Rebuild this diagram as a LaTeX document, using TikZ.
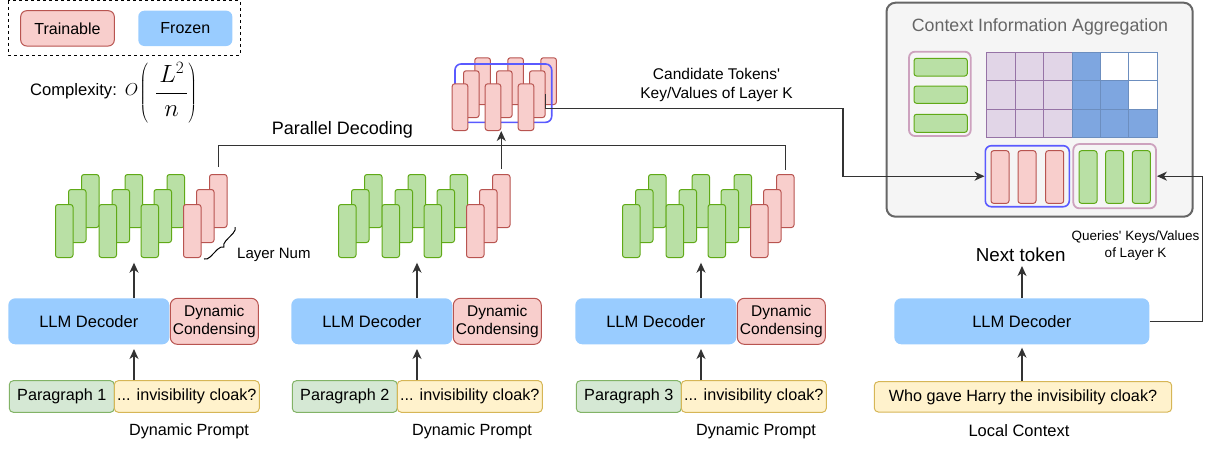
\documentclass[tikz,border=0pt]{standalone}
\usepackage{fontspec}
\setmainfont{Liberation Sans}
\usetikzlibrary{arrows.meta,decorations.pathreplacing}
\definecolor{gfill}{HTML}{B9E0A5}
\definecolor{gline}{HTML}{60A917}
\definecolor{rfill}{HTML}{F8CECC}
\definecolor{rline}{HTML}{B85450}
\definecolor{decblue}{HTML}{99CCFF}
\definecolor{pgfill}{HTML}{D5E8D4}
\definecolor{pgline}{HTML}{82B366}
\definecolor{yfill}{HTML}{FFF2CC}
\definecolor{yline}{HTML}{D6B656}
\definecolor{aggfill}{HTML}{F5F5F5}
\definecolor{aggline}{HTML}{666666}
\definecolor{pinkline}{HTML}{CDA2BE}
\definecolor{kvblue}{HTML}{5A5AFF}
\definecolor{pfill}{HTML}{E1D5E7}
\definecolor{pline}{HTML}{9673A6}
\definecolor{bfill}{HTML}{7EA6E0}
\definecolor{bline}{HTML}{6C8EBF}
\definecolor{conncol}{HTML}{333333}
\newcommand{\fsz}[2]{\fontsize{#1}{#2}\selectfont}
\newcommand{\mkbox}[7]{\node[#1, minimum width={(#5)-(#3)}, minimum height={(#6)-(#4)}] (#2) at ({((#3)+(#5))/2},{((#4)+(#6))/2}) {#7};}
\begin{document}
\begin{tikzpicture}[x=1pt,y=-1pt,
  conn/.style={draw=conncol, line width=1.3pt},
  arr/.style={conn, -{Stealth[length=10pt,width=9pt,inset=3pt]}},
  bar/.style={anchor=north west, minimum width=17.5pt, minimum height=53pt, inner sep=0pt, rounded corners=2.5pt, line width=1pt},
  cbar/.style={bar, fill=rfill, draw=rline, minimum width=15.6pt, minimum height=46.7pt},
  trainbox/.style={draw=rline, fill=rfill, rounded corners=6pt, line width=1pt, inner sep=0pt, font=\fsz{16}{19}},
  frozenbox/.style={fill=decblue, rounded corners=6pt, inner sep=0pt, font=\fsz{16}{19}},
  decbox/.style={fill=decblue, rounded corners=7pt, inner sep=0pt, font=\fsz{16.5}{19}},
  condbox/.style={draw=rline, fill=rfill, rounded corners=7pt, line width=1pt, inner sep=0pt, align=center, font=\fsz{15.5}{18.4}},
  parabox/.style={draw=pgline, fill=pgfill, rounded corners=4pt, line width=1pt, inner sep=0pt, font=\fsz{16.2}{19}},
  ybox/.style={draw=yline, fill=yfill, rounded corners=4pt, line width=1pt, inner sep=0pt, font=\fsz{16.2}{19}},
  aggbox/.style={draw=aggline, fill=aggfill, rounded corners=9pt, line width=2pt, inner sep=0pt},
  pinkframe/.style={draw=pinkline, rounded corners=6pt, line width=1.8pt, inner sep=0pt},
  kvframe/.style={draw=kvblue, rounded corners=6pt, line width=1.6pt, inner sep=0pt},
  gbox/.style={draw=gline, fill=gfill, rounded corners=2.5pt, line width=1pt, inner sep=0pt},
  rbox/.style={draw=rline, fill=rfill, rounded corners=2.5pt, line width=1pt, inner sep=0pt},
  lab/.style={inner sep=0pt}
]
\useasboundingbox (0,0) rectangle (1210,448);

% legend
\draw[black, line width=1pt, dash pattern=on 3pt off 3pt] (8.3,0.8) rectangle (240,55);
\mkbox{trainbox}{legT}{20.7}{10.7}{114.3}{46}{Trainable}
\mkbox{frozenbox}{legF}{138.3}{10.7}{232.3}{46}{Frozen}

% complexity
\node[lab, anchor=base west, font=\fsz{16.6}{20}] (cx) at (30,95.5) {Complexity:\hspace{8pt}$O$\hspace{1pt}\raisebox{-3.5pt}{\fsz{23}{28}$\displaystyle\left(\hspace{7pt}\frac{\hspace{3pt}L^2\hspace{3pt}}{n}\right)$}};

% three dynamic-prompt columns
\foreach \k/\dx in {1/0,2/283,3/567}{
  \mkbox{decbox}{dec\k}{8.3+\dx}{298.3}{169.3+\dx}{344.3}{LLM Decoder}
  \mkbox{condbox}{cond\k}{170.3+\dx}{298.3}{258.3+\dx}{344.3}{Dynamic\\Condensing}
  \mkbox{parabox}{para\k}{9.3+\dx}{380.7}{114.3+\dx}{412.3}{Paragraph \k}
  \mkbox{ybox}{inv\k}{114.3+\dx}{380.7}{259.3+\dx}{412.3}{... invisibility cloak?}
  \node[lab, font=\fsz{16.2}{19}] (dp\k) at ({189+\dx},431) {Dynamic Prompt};
  \foreach \g/\gx in {0/0,1/43.5,2/85.5,3/128}{
    \foreach \l in {2,1,0}{
      \ifnum\g<3 \def\barF{gfill}\def\barD{gline}\else\def\barF{rfill}\def\barD{rline}\fi
      \node[bar, fill=\barF, draw=\barD] (s\k g\g l\l) at ({55+\dx+\gx+13*\l},{204-15*\l}) {};
    }
  }
  \coordinate (up\k) at ({134+\dx},262.7);
  \coordinate (pa\k) at ({134+\dx},349);
  \draw[arr] (dec\k.north -| up\k) -- (up\k);
  \draw[arr] (inv\k.north -| pa\k) -- (pa\k);
}

% brace and layer label
\draw[draw=black, line width=1pt, decorate, decoration={brace, amplitude=6pt}] (235,227) -- (204,259);
\node[lab, anchor=west, font=\fsz{15}{18}] (ln) at (237,255) {Layer Num};

% candidate token cluster
\foreach \g in {0,1,2}{ \node[cbar] (cg\g l2) at ({451.7+33*\g+22.6},57.3) {}; }
\mkbox{kvframe}{cluster}{455}{64}{551.7}{122.3}{}
\foreach \g in {0,1,2}{ \node[cbar] (cg\g l1) at ({451.7+33*\g+11.3},70.3) {}; }
\foreach \g in {0,1,2}{ \node[cbar] (cg\g l0) at ({451.7+33*\g},83.3) {}; }

\node[lab, font=\fsz{18}{22}] (pdlab) at (342.5,130) {Parallel Decoding};
\node[lab, font=\fsz{15.5}{19}, align=center] (clab) at (716.5,85) {Candidate Tokens\textquotesingle\\Key/Values of Layer K};

% context information aggregation
\mkbox{aggbox}{agg}{886.5}{2.7}{1192.7}{216.7}{}
\node[lab, font=\fsz{17.8}{21}, text=aggline] (aggtitle) at (1040,27) {Context Information Aggregation};
\mkbox{pinkframe}{qstack}{909}{51.7}{970.7}{136}{}
\mkbox{gbox}{h1}{914}{58.3}{967.3}{76}{}
\mkbox{gbox}{h2}{914}{86}{967.3}{103.3}{}
\mkbox{gbox}{h3}{914}{114.3}{967.3}{132.3}{}
\foreach \c in {0,1,2}{
  \foreach \r in {0,1,2}{
    \filldraw[fill=pfill, draw=pline, line width=1pt] ({986.7+28.43*\c},{52.3+28.47*\r}) rectangle ++(28.43,28.47);
  }
}
\foreach \c in {3,4,5}{
  \foreach \r in {0,1,2}{
    \filldraw[fill=bfill, draw=bline, line width=1pt] ({986.7+28.43*\c},{52.3+28.47*\r}) rectangle ++(28.43,28.47);
  }
}
\filldraw[fill=white, draw=bline, line width=1pt] ({986.7+28.43*4},52.3) rectangle ++(28.43,28.47);
\filldraw[fill=white, draw=bline, line width=1pt] ({986.7+28.43*5},52.3) rectangle ++(28.43,28.47);
\filldraw[fill=white, draw=bline, line width=1pt] ({986.7+28.43*5},{52.3+28.47}) rectangle ++(28.43,28.47);

\mkbox{kvframe}{kvbox}{985.3}{145.7}{1069.3}{206.7}{}
\foreach \i/\xa in {1/991,2/1018,3/1045.7}{ \mkbox{rbox}{kr\i}{\xa}{150.7}{\xa+18}{203.3}{} }
\mkbox{pinkframe}{qkbox}{1073.3}{144}{1156}{208.3}{}
\foreach \i/\xa in {1/1079,2/1105.7,3/1132.3}{ \mkbox{gbox}{kg\i}{\xa}{150.7}{\xa+18}{203.3}{} }

% local context column
\mkbox{decbox}{dec4}{894.3}{298.3}{1149.3}{344.3}{LLM Decoder}
\mkbox{ybox}{qbox}{874.3}{381.7}{1171.7}{412}{Who gave Harry the invisibility cloak?}
\node[lab, font=\fsz{18.8}{22}] (nexttok) at (1020.7,255) {Next token};
\node[lab, font=\fsz{16.5}{19}] (lc) at (1019,431) {Local Context};
\node[lab, font=\fsz{13.5}{17}, align=center] (qlab) at (1135.5,246) {Queries\textquotesingle{} Keys/Values\\of Layer K};
\coordinate (nt) at (1022,266);
\coordinate (qa) at (1022,347.7);
\draw[arr] (dec4.north -| nt) -- (nt);
\draw[arr] (qbox.north -| qa) -- (qa);

% connectors
\draw[conn] ([yshift=7pt]s1g3l2.north) |- ([yshift=28.5pt]s3g3l2.north) -- ([yshift=4pt]s3g3l2.north);
\draw[arr] ([yshift=5pt]s2g3l2.north) -- (s2g3l2.north |- cg1l0.south);
\coordinate (kvturn) at (843,108.5);
\draw[arr] (cg2l1.east) |- (kvturn) |- (kvbox.west);
\coordinate (rturn) at (1202.7,321.3);
\draw[arr] (dec4.east) -- (rturn) |- (qkbox.east);
\end{tikzpicture}
\end{document}
